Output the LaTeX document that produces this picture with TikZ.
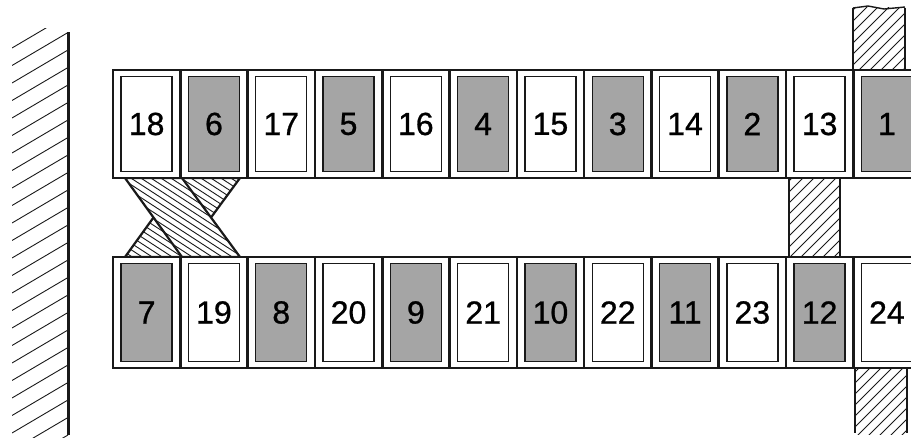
\documentclass[tikz,border=0pt]{standalone}
\usepackage{fontspec}
\setmainfont[FakeBold=0.8]{Liberation Sans}
\usetikzlibrary{positioning}
\definecolor{inkblack}{RGB}{25,25,25}
\definecolor{cellgray}{RGB}{165,165,165}
\tikzset{
  cellout/.style={rectangle, draw=inkblack, line width=2.6pt,
    minimum width=67.3pt, minimum height=108pt, inner sep=0pt},
  cellin/.style={rectangle, draw=inkblack, line width=1.4pt,
    minimum width=51pt, minimum height=95pt, inner sep=0pt,
    font=\fontsize{32}{36}\selectfont},
  hatchline/.style={line width=0.9pt, color=inkblack},
  postedge/.style={line width=2.8pt, color=inkblack},
  wallline/.style={line width=3pt, color=inkblack}
}

\begin{document}
\begin{tikzpicture}[x=1pt, y=-1pt]
  \useasboundingbox (0,0) rectangle (911,439);
  \clip (0,0) rectangle (911,439);

  % wall on the left
  \begin{scope}
    \clip (12,28) rectangle (68,437);
    \foreach \c in {48,65.5,...,500} \draw[hatchline] (12,\c) -- (68,\c-33);
  \end{scope}
  \draw[wallline] (68,32) -- (68,435);

  % posts on the right
  \begin{scope}
    \clip (853,7) rectangle (905,70);
    \foreach \k in {780,791,...,910} \draw[hatchline] (\k,72) -- ++(70,-70);
  \end{scope}
  \draw[postedge] (853,8) -- (853,70);
  \draw[postedge] (905,8) -- (905,70);
  \draw[line width=1.4pt, inkblack] (853,8) -- (868,6) -- (884,9) -- (905,7);

  \begin{scope}
    \clip (789,178) rectangle (840,257);
    \foreach \k in {700,711,...,845} \draw[hatchline] (\k,259) -- ++(90,-90);
  \end{scope}
  \draw[postedge] (789,178) -- (789,257);
  \draw[postedge] (840,178) -- (840,257);

  \begin{scope}
    \clip (855,368) rectangle (907,434);
    \foreach \k in {780,791,...,910} \draw[hatchline] (\k,436) -- ++(72,-72);
  \end{scope}
  \draw[postedge] (855,368) -- (855,433);
  \draw[postedge] (907,368) -- (907,433);

  % crossing between the rows
  \begin{scope}
    \clip (182,178) -- (240,178) -- (182,257) -- (125,257) -- cycle;
    \foreach \c in {80,86.5,...,262} \draw[hatchline] (100,\c) -- (250,\c+97.5);
  \end{scope}
  \draw[line width=2.2pt, inkblack] (182,178) -- (240,178) -- (182,257) -- (125,257) -- cycle;
  \fill[white] (125,178) -- (182,178) -- (240,257) -- (182,257) -- cycle;
  \begin{scope}
    \clip (125,178) -- (182,178) -- (240,257) -- (182,257) -- cycle;
    \foreach \c in {80,86.5,...,262} \draw[hatchline] (100,\c) -- (250,\c+97.5);
  \end{scope}
  \draw[line width=2.2pt, inkblack] (125,178) -- (182,178) -- (240,257) -- (182,257) -- cycle;

  % upper row
  \foreach \lab [count=\i from 0] in {18,6,17,5,16,4,15,3,14,2,13,1} {
    \ifodd\i \def\cellfill{cellgray}\else\def\cellfill{white}\fi
    \node[cellout, fill=white] (t\i) at ({146.65+67.3*\i},124) {};
    \node[cellin, fill=\cellfill] (tl\i) at (t\i) {\lab};
  }

  % lower row
  \foreach \lab [count=\i from 0] in {7,19,8,20,9,21,10,22,11,23,12,24} {
    \ifodd\i \def\cellfill{white}\else\def\cellfill{cellgray}\fi
    \node[cellout, fill=white, minimum height=111pt] (b\i) at ({146.65+67.3*\i},312.5) {};
    \node[cellin, fill=\cellfill, minimum height=98pt] (bl\i) at (b\i) {\lab};
  }
\end{tikzpicture}
\end{document}
